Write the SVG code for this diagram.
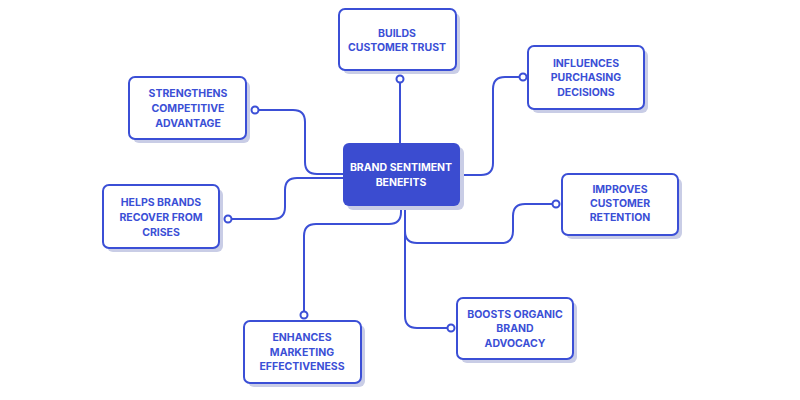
<svg xmlns="http://www.w3.org/2000/svg" width="800" height="400" viewBox="0 0 800 400">
<style>
.bg{fill:#ffffff}
.shadow{fill:#c9cde6}
.box{fill:#ffffff;stroke:#3b4fd6;stroke-width:2}
.cbox{fill:#3b4cd0}
.lbl{font-family:Inter,"Liberation Sans",sans-serif;font-weight:700;font-size:10.5px;fill:#3b4fd6;text-anchor:middle}
.clbl{font-family:Inter,"Liberation Sans",sans-serif;font-weight:700;font-size:10.5px;fill:#ffffff;text-anchor:middle}
.conn{fill:none;stroke:#3b4fd6;stroke-width:2}
.dot{fill:#ffffff;stroke:#3b4fd6;stroke-width:2}
</style>
<rect class="bg" x="0" y="0" width="800" height="400"/>
<g id="connectors">
<path class="conn" d="M400,83 V143"/>
<path class="conn" d="M259,110 H293 Q305,110 305,122 V162 Q305,174 317,174 H343"/>
<path class="conn" d="M232,219 H273 Q285,219 285,207 V190 Q285,178 297,178 H343"/>
<path class="conn" d="M519,77 H505 Q493,77 493,89 V163 Q493,175 481,175 H460"/>
<path class="conn" d="M552,204 H525 Q513,204 513,216 V231 Q513,243 501,243 H417 Q405,243 405,231 V206"/>
<path class="conn" d="M447,328 H417 Q405,328 405,316 V206"/>
<path class="conn" d="M304,311 V236 Q304,224 316,224 H389 Q401,224 401,212 V206"/>
<circle class="dot" cx="400" cy="79" r="3.5"/>
<circle class="dot" cx="255" cy="110" r="3.5"/>
<circle class="dot" cx="228" cy="219" r="3.5"/>
<circle class="dot" cx="523" cy="77" r="3.5"/>
<circle class="dot" cx="556" cy="204" r="3.5"/>
<circle class="dot" cx="451" cy="328" r="3.5"/>
<circle class="dot" cx="304" cy="315" r="3.5"/>
</g>
<g id="center">
<rect class="shadow" x="347" y="147" width="117" height="63" rx="6"/>
<rect class="cbox" x="343" y="143" width="117" height="63" rx="6"/>
<text class="clbl" x="401" y="171">BRAND SENTIMENT</text>
<text class="clbl" x="401" y="186">BENEFITS</text>
</g>
<g id="builds">
<rect class="shadow" x="343" y="13" width="117" height="61" rx="6"/>
<rect class="box" x="339" y="9" width="117" height="61" rx="6"/>
<text class="lbl" x="397" y="37">BUILDS</text>
<text class="lbl" x="397" y="51">CUSTOMER TRUST</text>
</g>
<g id="strengthens">
<rect class="shadow" x="133" y="81" width="117" height="62" rx="6"/>
<rect class="box" x="129" y="77" width="117" height="62" rx="6"/>
<text class="lbl" x="188" y="97">STRENGTHENS</text>
<text class="lbl" x="188" y="112">COMPETITIVE</text>
<text class="lbl" x="188" y="127">ADVANTAGE</text>
</g>
<g id="helps">
<rect class="shadow" x="107" y="189" width="116" height="63" rx="6"/>
<rect class="box" x="103" y="185" width="116" height="63" rx="6"/>
<text class="lbl" x="161" y="206">HELPS BRANDS</text>
<text class="lbl" x="161" y="221">RECOVER FROM</text>
<text class="lbl" x="161" y="236">CRISES</text>
</g>
<g id="influences">
<rect class="shadow" x="532" y="50" width="116" height="63" rx="6"/>
<rect class="box" x="528" y="46" width="116" height="63" rx="6"/>
<text class="lbl" x="586" y="67">INFLUENCES</text>
<text class="lbl" x="586" y="81">PURCHASING</text>
<text class="lbl" x="586" y="96">DECISIONS</text>
</g>
<g id="improves">
<rect class="shadow" x="566" y="178" width="116" height="61" rx="6"/>
<rect class="box" x="562" y="174" width="116" height="61" rx="6"/>
<text class="lbl" x="620" y="193">IMPROVES</text>
<text class="lbl" x="620" y="207">CUSTOMER</text>
<text class="lbl" x="620" y="221">RETENTION</text>
</g>
<g id="boosts">
<rect class="shadow" x="461" y="302" width="116" height="61" rx="6"/>
<rect class="box" x="457" y="298" width="116" height="61" rx="6"/>
<text class="lbl" x="515" y="318">BOOSTS ORGANIC</text>
<text class="lbl" x="515" y="332">BRAND</text>
<text class="lbl" x="515" y="347">ADVOCACY</text>
</g>
<g id="enhances">
<rect class="shadow" x="248" y="325" width="117" height="62" rx="6"/>
<rect class="box" x="244" y="321" width="117" height="62" rx="6"/>
<text class="lbl" x="302" y="341">ENHANCES</text>
<text class="lbl" x="302" y="356">MARKETING</text>
<text class="lbl" x="302" y="370">EFFECTIVENESS</text>
</g>
</svg>
